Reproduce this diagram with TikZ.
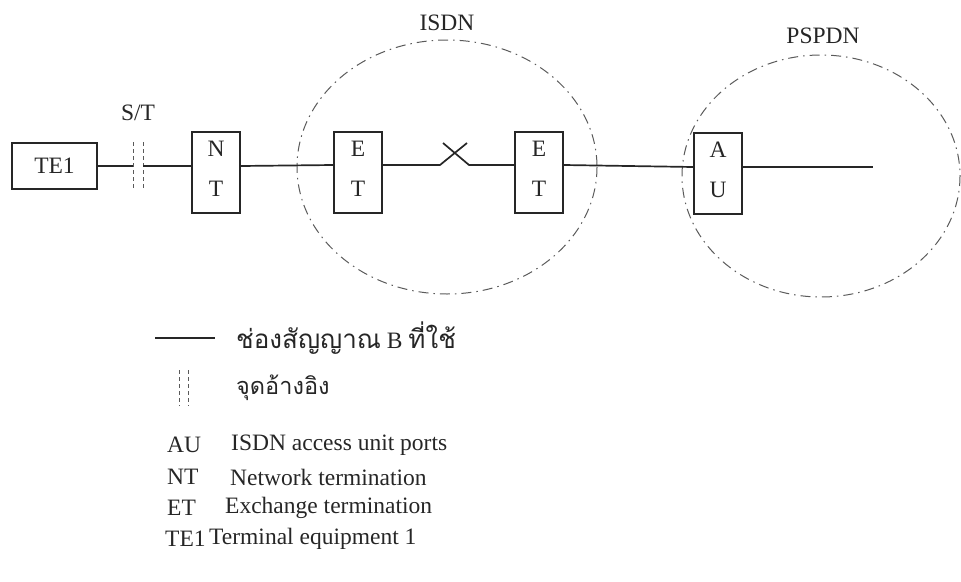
\documentclass[tikz,border=0pt]{standalone}
\usepackage{fontspec}
\setmainfont{Liberation Serif}
\newfontfamily\thaifont[Script=Thai]{Loma}
\definecolor{ink}{HTML}{262626}
\definecolor{cloud}{HTML}{5A5A5A}
\begin{document}
\begin{tikzpicture}[x=1pt,y=-1pt,
  every node/.style={font=\fontsize{23.5}{28}\selectfont, text=ink},
  unit/.style={draw=ink, line width=1.5pt, minimum width=48pt, minimum height=81pt, inner sep=0pt},
  termbox/.style={draw=ink, line width=1.5pt, minimum width=85pt, minimum height=46pt, inner sep=0pt},
  chan/.style={draw=ink, line width=1.7pt},
  refmark/.style={draw=cloud, line width=0.9pt, dash pattern=on 4pt off 3pt},
  netcloud/.style={draw=cloud, line width=1pt, dash pattern=on 10pt off 5pt on 1.5pt off 5pt},
  lbl/.style={anchor=west, inner sep=0pt}
]
\useasboundingbox (0,0) rectangle (961,581);

% network clouds
\draw[netcloud] (447,167) ellipse [x radius=150, y radius=127];
\draw[netcloud] (821,176) ellipse [x radius=139, y radius=121];
\node (isdnlbl) at (447,23) {ISDN};
\node (pspdnlbl) at (823,36) {PSPDN};

% equipment boxes
\node[termbox] (te1) at (54.5,166) {TE1};
\node[unit] (nt)  at (216,172.5) {};
\node[unit] (et1) at (358,172.5) {};
\node[unit] (et2) at (539,172.5) {};
\node[unit] (au)  at (718,173.5) {};
\foreach \b/\u/\l in {nt/N/T, et1/E/T, et2/E/T, au/A/U} {
  \node (\b u) at ([yshift=24pt]\b.center) {\u};
  \node (\b l) at ([yshift=-16pt]\b.center) {\l};
}

% S/T reference point
\node (stlbl) at (138,113) {S/T};
\coordinate (stA) at (133,166);
\coordinate (stB) at (143,166);
\draw[refmark] (133,142) -- (133,188);
\draw[refmark] (143,142) -- (143,188);

% B channel path
\coordinate (xa) at (440,165);
\coordinate (xb) at (467,143);
\coordinate (xc) at (443,143);
\coordinate (xd) at (469,165);
\coordinate (tail) at (873,167);
\draw[chan] (te1.east) -- (stA);
\draw[chan] (stB) -- (nt.west |- stB);
\draw[chan] (nt.east |- stB) -- (et1.west |- xa);
\draw[chan] (et1.east |- xa) -- (xa) -- (xb);
\draw[chan] (xc) -- (xd) -- (et2.west |- xd);
\draw[chan] (et2.east |- xd) -- (au.west |- tail);
\draw[chan] (au.east |- tail) -- (tail);

% legend
\coordinate (lgA) at (155,338);
\coordinate (lgB) at (215,338);
\draw[chan] (lgA) -- (lgB);
\node[lbl] (lg1) at (236,338) {{\thaifont\fontsize{26}{30}\selectfont ช่องสัญญาณ} B {\thaifont\fontsize{26}{30}\selectfont ที่ใช้}};
\draw[refmark] (179,370) -- (179,406);
\draw[refmark] (188,370) -- (188,406);
\node[lbl] (lg2) at (236,388) {\thaifont จุดอ้างอิง};

\node[lbl] (kau) at (167,445) {AU};
\node[lbl] (dau) at (231,445) {ISDN access unit ports};
\node[lbl] (knt) at (167,477) {NT};
\node[lbl] (dnt) at (230,477) {Network termination};
\node[lbl] (ket) at (167,508) {ET};
\node[lbl] (det) at (225,508) {Exchange termination};
\node[lbl] (kte) at (165,539) {TE1};
\node[lbl] (dte) at (209,539) {Terminal equipment 1};
\end{tikzpicture}
\end{document}
